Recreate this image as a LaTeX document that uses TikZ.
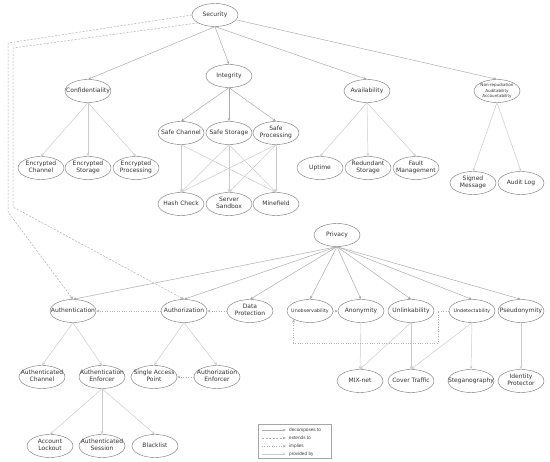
\documentclass[tikz,border=0pt]{standalone}
\usepackage{fontspec}
\setmainfont{DejaVu Sans}
\newfontfamily\legfont{Liberation Sans}
\usetikzlibrary{arrows.meta,shapes.geometric}
\newcommand{\ctr}[1]{\vbox to 0pt{\vss\hbox to 0pt{\hss\begin{tabular}{@{}c@{}}#1\end{tabular}\hss}\vss}}
\tikzset{
  el/.style={ellipse, draw=black!55, fill=white, minimum width=46pt, minimum height=23pt, inner sep=0pt, text=black!80, font=\fontsize{6}{6.8}\selectfont},
  elsmall/.style={el, font=\fontsize{4.8}{5.5}\selectfont},
  eltiny/.style={el, font=\fontsize{4.1}{5.1}\selectfont},
  tip/.style={-{Stealth[length=3.4pt,width=2.8pt]}},
  dec/.style={tip, draw=black!32, line width=0.5pt},
  prov/.style={tip, draw=black!20, line width=0.5pt},
  ext/.style={tip, draw=black!32, line width=0.5pt, dash pattern=on 2pt off 1.5pt},
  impl/.style={tip, draw=black!30, line width=0.5pt, dash pattern=on 0.8pt off 1.6pt},
  legtext/.style={anchor=west, inner sep=0pt, text=black!75, font=\legfont\fontsize{4.7}{5}\selectfont}
}
\begin{document}
\begin{tikzpicture}[x=1pt,y=-1pt]
\useasboundingbox (0,0) rectangle (550,462);
% Security tree
\node[el] (sec) at (215,15) {\ctr{Security}};
\node[el] (integ) at (229,76) {\ctr{Integrity}};
\node[el] (conf) at (88,91) {\ctr{Confidentiality}};
\node[el] (avail) at (367,91) {\ctr{Availability}};
\node[eltiny] (nonrep) at (497,91) {\ctr{Non-repudiation\\Auditability\\Accountability}};
\node[el] (ench) at (41,168) {\ctr{Encrypted\\Channel}};
\node[el] (enst) at (88,168) {\ctr{Encrypted\\Storage}};
\node[el] (enpr) at (136,168) {\ctr{Encrypted\\Processing}};
\node[el] (sch) at (181,133) {\ctr{Safe Channel}};
\node[el] (sst) at (229,133) {\ctr{Safe Storage}};
\node[el] (spr) at (276,133) {\ctr{Safe\\Processing}};
\node[el] (hash) at (181,204) {\ctr{Hash Check}};
\node[el] (sand) at (229,204) {\ctr{Server\\Sandbox}};
\node[el] (mine) at (276,204) {\ctr{Minefield}};
\node[el] (upt) at (320,168) {\ctr{Uptime}};
\node[el] (red) at (368,168) {\ctr{Redundant\\Storage}};
\node[el] (fault) at (416,168) {\ctr{Fault\\Management}};
\node[el] (sig) at (473,183) {\ctr{Signed\\Message}};
\node[el] (audit) at (521,183) {\ctr{Audit Log}};
% Privacy tree
\node[el] (priv) at (337,235) {\ctr{Privacy}};
\node[el] (authn) at (73,311) {\ctr{Authentication}};
\node[el] (authz) at (184,311) {\ctr{Authorization}};
\node[el] (dp) at (250,311) {\ctr{Data\\Protection}};
\node[elsmall] (unob) at (310,311) {\ctr{Unobservability}};
\node[el] (anon) at (361,311) {\ctr{Anonymity}};
\node[el] (unlink) at (411,311) {\ctr{Unlinkability}};
\node[elsmall] (undet) at (472,311) {\ctr{Undetectability}};
\node[el] (pseudo) at (521,311) {\ctr{Pseudonymity}};
\node[el] (ach) at (42,377) {\ctr{Authenticated\\Channel}};
\node[el] (aenf) at (102,377) {\ctr{Authentication\\Enforcer}};
\node[el] (sap) at (154,377) {\ctr{Single Access\\Point}};
\node[el] (azenf) at (217,377) {\ctr{Authorization\\Enforcer}};
\node[el] (lock) at (50,446) {\ctr{Account\\Lockout}};
\node[el] (asess) at (102,446) {\ctr{Authenticated\\Session}};
\node[el] (black) at (155,446) {\ctr{Blacklist}};
\node[el] (mix) at (360,381) {\ctr{MIX-net}};
\node[el] (cover) at (411,381) {\ctr{Cover Traffic}};
\node[el] (steg) at (471,381) {\ctr{Steganography}};
\node[el] (idp) at (521,381) {\ctr{Identity\\Protector}};

% decomposes to
\foreach \c in {conf,integ,avail} \draw[dec] (sec.south) -- (\c.north);
\draw[dec] (sec) -- (nonrep.north);
\foreach \c in {sch,sst,spr} \draw[dec] (integ.south) -- (\c.north);
\foreach \c in {authn,authz,dp,unob,anon,unlink,undet,pseudo} \draw[dec] (priv.south) -- (\c.north);

% provided by
\foreach \c in {ench,enst,enpr} \draw[prov] (conf.south) -- (\c.north);
\foreach \c in {upt,red,fault} \draw[prov] (avail.south) -- (\c.north);
\foreach \c in {sig,audit} \draw[prov] (nonrep.south) -- (\c.north);
\foreach \c in {hash,mine} \draw[prov] (sch.south) -- (\c.north);
\foreach \c in {hash,sand,mine} \draw[prov] (sst.south) -- (\c.north);
\foreach \c in {hash,sand,mine} \draw[prov] (spr.south) -- (\c.north);
\foreach \c in {ach,aenf} \draw[prov] (authn.south) -- (\c.north);
\foreach \c in {sap,azenf} \draw[prov] (authz.south) -- (\c.north);
\foreach \c in {lock,asess,black} \draw[prov] (aenf.south) -- (\c.north);
\draw[prov] (anon.south) -- (mix.north);
\foreach \c in {mix,cover} \draw[prov] (unlink.south) -- (\c.north);
\foreach \c in {cover,steg} \draw[prov] (undet.south) -- (\c.north);
\draw[prov] (pseudo.south) -- (idp.north);

% extends to
\coordinate (d1) at (8,43);
\coordinate (d2) at (8,212);
\coordinate (e1) at (13,48);
\coordinate (e2) at (13,207);
\draw[ext] (sec.west) -- (d1) -- (d2) -- (authn.north);
\draw[ext] (sec.205) -- (e1) -- (e2) -- (authz.north);

% implies
\draw[impl] (authz) -- (authn);
\draw[impl] (dp) -- (authz);
\draw[impl] (unob) -- (anon);
\draw[impl] (azenf) -- (sap);
\coordinate (k1) at (438,343);
\draw[impl] (undet.west) -| (k1) -| (unob.south west);

% legend
\draw[black!35, line width=0.5pt] (258,424) rectangle (331,458);
\coordinate (la1) at (262,430); \coordinate (lb1) at (286,430);
\coordinate (la2) at (262,438); \coordinate (lb2) at (286,438);
\coordinate (la3) at (262,446); \coordinate (lb3) at (286,446);
\coordinate (la4) at (262,454); \coordinate (lb4) at (286,454);
\draw[dec] (la1) -- (lb1);
\draw[ext] (la2) -- (lb2);
\draw[impl] (la3) -- (lb3);
\draw[prov] (la4) -- (lb4);
\node[legtext] (t1) at (289,430) {decomposes to};
\node[legtext] (t2) at (289,438) {extends to};
\node[legtext] (t3) at (289,446) {implies};
\node[legtext] (t4) at (289,454) {provided by};
\end{tikzpicture}
\end{document}
